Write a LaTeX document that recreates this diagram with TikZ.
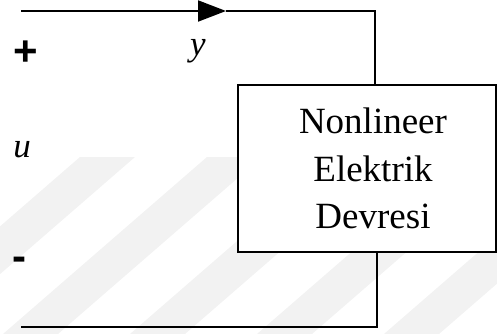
\documentclass[tikz,border=0pt]{standalone}
\usepackage{fontspec}
\setmainfont{Liberation Serif}
\newfontfamily\signfont{Liberation Sans}
\usetikzlibrary{arrows.meta}
\tikzset{
  wire/.style={line width=2pt},
  boxstyle/.style={draw, line width=2pt, inner sep=0pt, minimum width=258pt, minimum height=167pt},
  boxtext/.style={font=\fontsize{37}{44}\selectfont, inner sep=0pt, anchor=base},
  varlabel/.style={font=\fontsize{35}{40}\selectfont\itshape, inner sep=0pt, anchor=base},
  signlabel/.style={font=\signfont\bfseries\fontsize{42}{46}\selectfont, inner sep=0pt},
  band/.style={fill=black!5, draw=none}
}
\begin{document}
\begin{tikzpicture}[x=1pt, y=-1pt]
  \useasboundingbox (0,0) rectangle (497,334);
  % faint diagonal background bands
  \begin{scope}
    \clip (0,0) rectangle (497,334);
    \foreach \s in {80,207,334,461,588} {
      \fill[band] (\s,157) -- (\s+55,157) -- (\s+55-204,334) -- (\s-204,334) -- cycle;
    }
  \end{scope}
  % circuit block
  \node[boxstyle, fill=white] (circuit) at (367,168.5) {};
  \node[boxtext] (l1) at (373,133) {Nonlineer};
  \node[boxtext] (l2) at (373,181) {Elektrik};
  \node[boxtext] (l3) at (373,228.5) {Devresi};
  % terminals
  \coordinate (topin) at (21,11);
  \coordinate (tip) at (226,11);
  \coordinate (topcorner) at (375,11);
  \coordinate (botcorner) at (377,327);
  \coordinate (botin) at (21,327);
  \draw[wire, -{Triangle[length=28pt, width=21pt]}] (topin) -- (tip);
  \draw[wire] (tip) -- (topcorner) -- (topcorner |- circuit.north);
  \draw[wire] (botcorner |- circuit.south) -- (botcorner) -- (botin);
  % labels
  \node[varlabel] (ylab) at (198,56) {y};
  \node[varlabel] (ulab) at (22,157) {u};
  \node[signlabel] (plus) at (26,53.5) {+};
  \node[signlabel] (minus) at (19.5,263.5) {-};
\end{tikzpicture}
\end{document}
